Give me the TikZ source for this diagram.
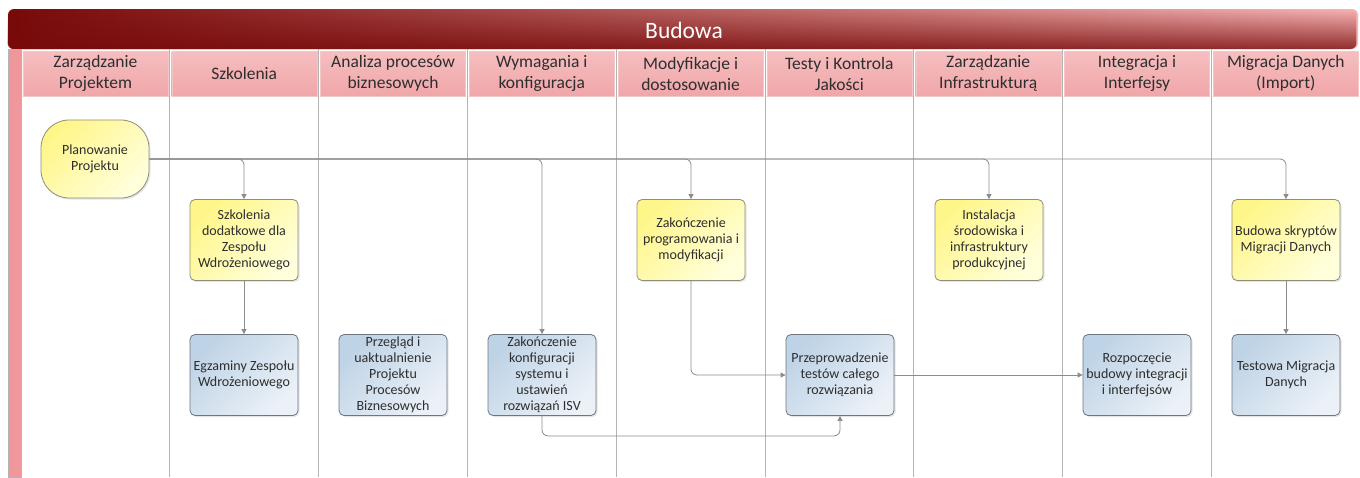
\documentclass[tikz,border=0pt]{standalone}
\usepackage{fontspec}
\setmainfont{Carlito}
\usetikzlibrary{positioning, arrows.meta, shadows, fadings}

\definecolor{barDark}{HTML}{780A0A}
\definecolor{barMid}{HTML}{C98080}
\definecolor{barLight}{HTML}{F7B4B4}
\definecolor{stripPink}{HTML}{EF979B}
\definecolor{headTop}{HTML}{F6BEC0}
\definecolor{headBot}{HTML}{F0A6A9}
\definecolor{headEdge}{HTML}{F3C6C7}
\definecolor{laneGray}{HTML}{B4B4B4}
\definecolor{lineGray}{HTML}{8C8C8C}
\definecolor{textGray}{HTML}{2E2E2E}
\definecolor{yelA}{HTML}{FFF68A}
\definecolor{yelB}{HTML}{FFFFDC}
\definecolor{yelEdge}{HTML}{8E8E7A}
\definecolor{bluA}{HTML}{BFD3E6}
\definecolor{bluB}{HTML}{EBF1F7}
\definecolor{bluEdge}{HTML}{6E7680}

\tikzfading[name=barfade, top color=transparent!100, middle color=transparent!95, bottom color=transparent!20]

\begin{document}
\begin{tikzpicture}[
    x=1pt, y=1pt,
    >={Triangle[length=5pt, width=5pt]},
    lane/.style={draw=laneGray, line width=0.8pt},
    head/.style={draw=headEdge, top color=headTop, bottom color=headBot,
        minimum width=145pt, minimum height=45pt, inner sep=0pt, align=center,
        text=textGray, font=\fontsize{17.5}{21}\selectfont},
    task/.style={draw, line width=0.8pt, rounded corners=5pt, minimum width=108pt,
        minimum height=81pt, inner sep=1pt, align=center, text=textGray,
        font=\fontsize{14}{16}\selectfont,
        drop shadow={opacity=0.2, shadow xshift=1.5pt, shadow yshift=-1.5pt}},
    todo/.style={task, draw=yelEdge, top color=yelA, bottom color=yelB, shading angle=45},
    done/.style={task, draw=bluEdge, top color=bluA, bottom color=bluB, shading angle=45},
    start/.style={todo, rounded corners=28pt, minimum height=78pt},
    flow/.style={->, draw=lineGray, line width=0.8pt, rounded corners=6pt}
]

    % --- Tlo i ramka ---
    \useasboundingbox (0,0) rectangle (1360,-477);
    \fill[white] (0,0) rectangle (1360,-477);

    % --- Pasek tytulu ---
    \shade[left color=barDark, middle color=barMid, right color=barLight, rounded corners=6pt]
        (8,-9) rectangle (1358,-49);
    \fill[barDark, path fading=barfade, rounded corners=6pt] (8,-9) rectangle (1358,-49);
    \node[text=white, font=\fontsize{23.5}{26}\selectfont] (tytul) at (684,-30) {Budowa};

    % --- Pasek boczny ---
    \fill[stripPink, draw=laneGray] (8,-49) rectangle (21,-477);

    % --- Tory ---
    \foreach \x in {21,169.8,318.6,467.4,616.2,765,913.8,1062.6,1211.4}
        \draw[lane] (\x,-49) -- (\x,-477);

    % --- Naglowki torow ---
    \foreach \n/\t [count=\i from 0] in {
        zp/{Zarządzanie\\Projektem},
        sz/{Szkolenia},
        ap/{Analiza procesów\\biznesowych},
        wk/{Wymagania i\\konfiguracja},
        md/{Modyfikacje i\\dostosowanie},
        tk/{Testy i Kontrola\\Jakości},
        zi/{Zarządzanie\\Infrastrukturą},
        ii/{Integracja i\\Interfejsy},
        mi/{Migracja Danych\\(Import)}}
        \node[head] (h\n) at (95.4+148.8*\i,-73.5) {\t};

    % --- Zadania ---
    \node[start] (plan) at (95,-159) {Planowanie\\Projektu};

    \node[todo] (szk) at (244,-240) {Szkolenia\\dodatkowe dla\\Zespołu\\Wdrożeniowego};
    \node[done] (egz) at (244,-375) {Egzaminy Zespołu\\Wdrożeniowego};

    \node[done] (prz) at (393,-375) {Przegląd i\\uaktualnienie\\Projektu\\Procesów\\Biznesowych};

    \node[done] (konf) at (542,-375) {Zakończenie\\konfiguracji\\systemu i\\ustawień\\rozwiązań ISV};

    \node[todo] (prog) at (691,-240) {Zakończenie\\programowania i\\modyfikacji};

    \node[done] (test) at (840,-375) {Przeprowadzenie\\testów całego\\rozwiązania};

    \node[todo] (inst) at (989,-240) {Instalacja\\środowiska i\\infrastruktury\\produkcyjnej};

    \node[done] (integ) at (1137,-375) {Rozpoczęcie\\budowy integracji\\i interfejsów};

    \node[todo] (skr) at (1286,-240) {Budowa skryptów\\Migracji Danych};
    \node[done] (mig) at (1286,-375) {Testowa Migracja\\Danych};

    % --- Polaczenia ---
    \draw[flow] (plan.east) -| (szk.north);
    \draw[flow] (plan.east) -| (konf.north);
    \draw[flow] (plan.east) -| (prog.north);
    \draw[flow] (plan.east) -| (inst.north);
    \draw[flow] (plan.east) -| (skr.north);

    \draw[flow] (szk) -- (egz);
    \draw[flow] (skr) -- (mig);
    \draw[flow] (prog.south) |- (test.west);
    \draw[flow] (test) -- (integ);
    \draw[flow] (konf.south) -- ++(0,-20) -| (test.south);

\end{tikzpicture}
\end{document}
